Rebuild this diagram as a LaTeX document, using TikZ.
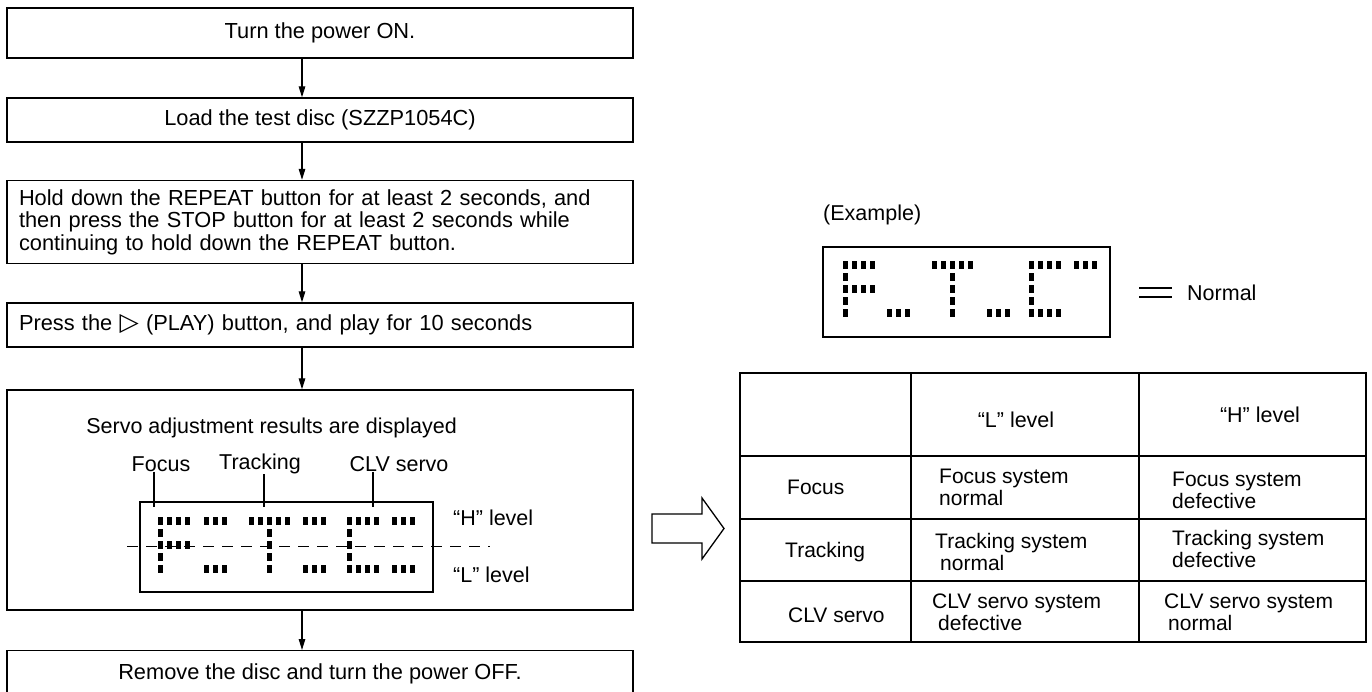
\documentclass[tikz,border=0pt]{standalone}
\usepackage{fontspec}
\setmainfont{Liberation Sans}
\newfontfamily\symfont{DejaVu Sans}
\usetikzlibrary{arrows.meta}
\newcommand{\dmrow}[3]{\foreach \k in {1,...,#3}{\fill ({#1+9*(\k-1)},{#2-4}) rectangle ++(5,8);}}
\begin{document}
\begin{tikzpicture}[x=1pt,y=-1pt,
  txt/.style={font=\fontsize{21.5pt}{23pt}\selectfont, inner sep=0pt},
  cell/.style={font=\fontsize{21pt}{22pt}\selectfont, inner sep=0pt, align=left, anchor=west},
  box/.style={draw, line width=1.3pt, minimum width=626pt, inner xsep=12pt, inner ysep=0pt, font=\fontsize{21.8pt}{22.5pt}\selectfont},
  flow/.style={line width=1.2pt, -{Triangle[length=11pt,width=6.5pt]}},
  rule/.style={line width=1.3pt},
  tick/.style={line width=1.2pt},
]
\clip (0,0) rectangle (1372,691);
\fill[white] (0,0) rectangle (1372,691);

% ---- flow boxes
\node[box, minimum height=50pt] (b1) at (320,33) {Turn the power ON.};
\node[box, minimum height=44pt] (b2) at (320,120) {Load the test disc (SZZP1054C)};
\node[box, minimum height=83pt, text width=602pt, align=left] (b3) at (320,222)
  {Hold down the REPEAT button for at least 2 seconds, and\\
   then press the STOP button for at least 2 seconds while\\
   continuing to hold down the REPEAT button.};
\node[box, minimum height=44pt, text width=602pt, align=left] (b4) at (320,325)
  {Press the {\symfont\fontsize{25pt}{25pt}\selectfont ▷} (PLAY) button, and play for 10 seconds};
\node[box, minimum height=220pt] (b5) at (320,500) {};
\node[box, minimum height=46pt, anchor=north] (b6) at (320,650) {Remove the disc and turn the power OFF.};

\coordinate (ax) at (302,0);
\draw[flow] (b1.south -| ax) -- (b2.north -| ax);
\draw[flow] (b2.south -| ax) -- (b3.north -| ax);
\draw[flow] (b3.south -| ax) -- (b4.north -| ax);
\draw[flow] (b4.south -| ax) -- (b5.north -| ax);
\draw[flow] (b5.south -| ax) -- (b6.north -| ax);

% ---- box 5 contents
\node[txt, anchor=east] (srv) at (457,428) {Servo adjustment results are displayed};
\node[txt] (lf) at (161,464) {Focus};
\node[txt] (lt) at (260,464) {Tracking};
\node[txt] (lc) at (399,464) {CLV servo};
\node[draw, line width=1.3pt, minimum width=293pt, minimum height=90pt, inner sep=0pt] (disp) at (286.5,547) {};
\coordinate (tf) at (154,507);
\coordinate (tt) at (264,507);
\coordinate (tc) at (373,507);
\draw[tick] (lf.south -| tf) -- (tf);
\draw[tick] (lt.south -| tt) -- (tt);
\draw[tick] (lc.south -| tc) -- (tc);
\coordinate (dl) at (127,546);
\coordinate (dr) at (490,546);
\draw[line width=1pt, dash pattern=on 11pt off 8pt] (dl) -- (dr);
\node[txt, anchor=west] (hl) at (453,518) {“H” level};
\node[txt, anchor=west] (ll) at (453,575) {“L” level};

% display segments
\dmrow{158}{521}{4} \dmrow{204}{521}{3} \dmrow{249}{521}{5} \dmrow{303}{521}{3} \dmrow{347}{521}{4} \dmrow{392}{521}{3}
\dmrow{158}{533}{1} \dmrow{267}{533}{1} \dmrow{347}{533}{1}
\dmrow{158}{545}{4} \dmrow{267}{545}{1} \dmrow{347}{545}{1}
\dmrow{158}{557}{1} \dmrow{267}{557}{1} \dmrow{347}{557}{1}
\dmrow{158}{569}{1} \dmrow{204}{569}{3} \dmrow{267}{569}{1} \dmrow{303}{569}{3} \dmrow{347}{569}{4} \dmrow{392}{569}{3}

% ---- hollow arrow
\draw[line width=1.3pt, line join=miter] (652,514) -- (702,514) -- (702,498) -- (724,528.5) -- (702,559) -- (702,543) -- (652,543) -- cycle;

% ---- example
\node[txt, anchor=west] (ex) at (823,215) {(Example)};
\node[draw, line width=1.3pt, minimum width=287pt, minimum height=90pt, inner sep=0pt] (exd) at (966.5,292) {};
\dmrow{843}{265}{4} \dmrow{932}{265}{5} \dmrow{1029}{265}{4} \dmrow{1074}{265}{3}
\dmrow{843}{277}{1} \dmrow{950}{277}{1} \dmrow{1029}{277}{1}
\dmrow{843}{289}{4} \dmrow{950}{289}{1} \dmrow{1029}{289}{1}
\dmrow{843}{301}{1} \dmrow{950}{301}{1} \dmrow{1029}{301}{1}
\dmrow{843}{313}{1} \dmrow{887}{313}{3} \dmrow{950}{313}{1} \dmrow{987}{313}{3} \dmrow{1029}{313}{4}
\draw[line width=1.3pt] (1139,288) -- (1172,288);
\draw[line width=1.3pt] (1139,297) -- (1172,297);
\node[txt, anchor=west] (nm) at (1187,293) {Normal};

% ---- table
\draw[rule] (740,373) rectangle (1366,642);
\draw[rule] (740,456) -- (1366,456);
\draw[rule] (740,519) -- (1366,519);
\draw[rule] (740,581) -- (1366,581);
\draw[rule] (911,373) -- (911,642);
\draw[rule] (1139,373) -- (1139,642);
\node[txt] (hL) at (1016,420) {“L” level};
\node[txt] (hH) at (1260,415) {“H” level};
\node[cell] (rF) at (787,487) {Focus};
\node[cell] (rT) at (785,552) {Tracking};
\node[cell] (rC) at (788,615) {CLV servo};
\node[cell] (c1) at (939,487) {Focus system\\normal};
\node[cell] (c2) at (1172,490) {Focus system\\defective};
\node[cell] (c3) at (935,552) {Tracking system\\\hspace*{5pt}normal};
\node[cell] (c4) at (1172,549) {Tracking system\\defective};
\node[cell] (c5) at (932,612) {CLV servo system\\\hspace*{6pt}defective};
\node[cell] (c6) at (1164,612) {CLV servo system\\\hspace*{4pt}normal};
\end{tikzpicture}
\end{document}
